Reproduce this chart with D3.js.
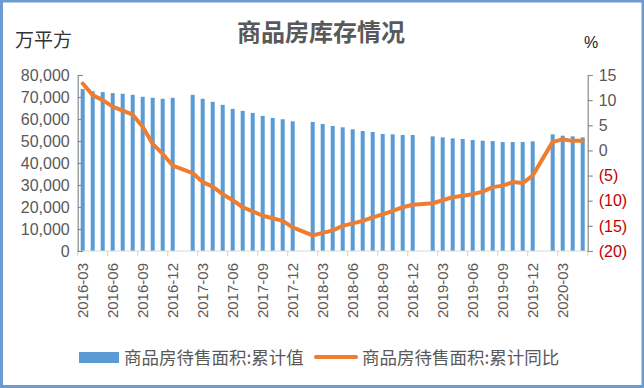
<!DOCTYPE html>
<html>
<head>
<meta charset="utf-8">
<script src="https://cdn.jsdelivr.net/npm/d3@7"></script>
<style>
  body { margin: 0; background: #fff; }
  svg { display: block; }
</style>
</head>
<body>
<div id="chart"></div>
<script>
const months = [
    "2016-03", "2016-04", "2016-05", "2016-06", "2016-07", "2016-08", "2016-09", "2016-10", "2016-11", "2016-12",
    "2017-01", "2017-02", "2017-03", "2017-04", "2017-05", "2017-06", "2017-07", "2017-08", "2017-09", "2017-10", "2017-11", "2017-12",
    "2018-01", "2018-02", "2018-03", "2018-04", "2018-05", "2018-06", "2018-07", "2018-08", "2018-09", "2018-10", "2018-11", "2018-12",
    "2019-01", "2019-02", "2019-03", "2019-04", "2019-05", "2019-06", "2019-07", "2019-08", "2019-09", "2019-10", "2019-11", "2019-12",
    "2020-01", "2020-02", "2020-03", "2020-04", "2020-05"
];

// 商品房待售面积:累计值 (万平方)
const area = [
    73600, 72600, 72230, 71770, 71470, 71000, 70100, 69640, 69180, 69640,
    null, 71000, 69180, 67800, 66440, 64600, 63700, 62780, 61410, 60500, 59890, 58970,
    null, 58670, 57750, 56840, 56230, 55310, 54550, 54100, 53180, 53030, 52730, 52730,
    null, 52110, 51650, 51200, 50900, 50440, 50130, 49980, 49520, 49520, 49520, 49830,
    null, 53030, 52420, 52110, 51650
];

// 商品房待售面积:累计同比 (%)
const yoy = [
    13.3, 11.0, 10.0, 8.7, 7.9, 7.1, 4.7, 1.3, -0.7, -3.0,
    null, -4.5, -6.3, -7.2, -8.7, -9.9, -11.3, -12.1, -13.0, -13.5, -14.0, -15.3,
    null, -16.9, -16.4, -15.9, -15.0, -14.5, -14.0, -13.3, -12.7, -12.0, -11.3, -10.8,
    null, -10.5, -9.9, -9.3, -9.0, -8.7, -8.2, -7.3, -7.0, -6.3, -6.5, -5.0,
    null, 1.7, 2.2, 1.9, 1.9
];

const leftTicks = [0, 10000, 20000, 30000, 40000, 50000, 60000, 70000, 80000];
const rightTicks = [-20, -15, -10, -5, 0, 5, 10, 15];

const title = "商品房库存情况";
const leftUnit = "万平方";
const rightUnit = "%";
const legendNames = ["商品房待售面积:累计值", "商品房待售面积:累计同比"];

const width = 644, height = 388;
const plot = { left: 77.7, right: 587.7, top: 75, bottom: 251 };
const barColor = "#5B9BD5", lineColor = "#ED7D31";
const textColor = "#595959";
const cjk = "'Noto Sans CJK SC', sans-serif";
const latin = "'Liberation Sans', Arial, sans-serif";

const svg = d3.select("#chart").append("svg")
    .attr("width", width)
    .attr("height", height);

svg.append("rect")
    .attr("width", width).attr("height", height)
    .attr("fill", "#fff");

// outer frame
svg.append("rect")
    .attr("x", 1.5).attr("y", 1)
    .attr("width", width - 2.5).attr("height", height - 2.5)
    .attr("fill", "none")
    .attr("stroke", "#6C9BD2")
    .attr("stroke-width", 3);

const x = d3.scaleBand()
    .domain(months)
    .range([plot.left, plot.right])
    .paddingInner(0.6)
    .paddingOuter(0.3);

const yL = d3.scaleLinear().domain([0, 80000]).range([plot.bottom, plot.top]);
const yR = d3.scaleLinear().domain([-20, 15]).range([plot.bottom, plot.top]);

const half = x.step() * x.paddingInner() / 2;

// bars
svg.append("g")
    .selectAll("rect")
    .data(months.map((m, i) => ({ m, v: area[i] })).filter(d => d.v != null))
    .enter().append("rect")
    .attr("x", d => x(d.m))
    .attr("width", x.bandwidth())
    .attr("y", d => yL(d.v))
    .attr("height", d => yL(0) - yL(d.v))
    .attr("fill", barColor);

// bottom axis line + ticks at category boundaries
const bottom = svg.append("g");
bottom.append("line")
    .attr("x1", plot.left).attr("x2", plot.right)
    .attr("y1", yL(0)).attr("y2", yL(0))
    .attr("stroke", "#D9D9D9").attr("stroke-width", 1.2);

const tickMonths = months.filter((m, i) => i % 3 === 0);
const tickPos = tickMonths.map(m => x(m) - half).concat([plot.right]);
bottom.selectAll("line.tick")
    .data(tickPos)
    .enter().append("line")
    .attr("class", "tick")
    .attr("x1", d => d).attr("x2", d => d)
    .attr("y1", yL(0)).attr("y2", yL(0) + 5)
    .attr("stroke", "#D9D9D9").attr("stroke-width", 1.2);

bottom.selectAll("text")
    .data(tickMonths)
    .enter().append("text")
    .attr("transform", d => `translate(${x(d) + x.bandwidth() / 2 + 5},${yL(0) + 12}) rotate(-90)`)
    .attr("text-anchor", "end")
    .attr("font-family", latin)
    .attr("font-size", 15)
    .attr("fill", textColor)
    .text(d => d);

// left axis
const leftAxis = svg.append("g")
    .attr("transform", `translate(${plot.left},0)`)
    .call(d3.axisRight(yL).tickValues(leftTicks).tickSize(5).tickFormat(""));
leftAxis.select(".domain").attr("stroke", "#8C8C8C").attr("stroke-width", 1.2);
leftAxis.selectAll(".tick line").attr("stroke", "#8C8C8C").attr("stroke-width", 1.2);

svg.append("g")
    .selectAll("text")
    .data(leftTicks)
    .enter().append("text")
    .attr("x", plot.left - 8)
    .attr("y", d => yL(d))
    .attr("dy", "0.36em")
    .attr("text-anchor", "end")
    .attr("font-family", latin)
    .attr("font-size", 16)
    .attr("fill", textColor)
    .text(d => d3.format(",")(d));

// right axis
const rightAxis = svg.append("g")
    .attr("transform", `translate(${plot.right},0)`)
    .call(d3.axisRight(yR).tickValues(rightTicks).tickSize(5).tickFormat(""));
rightAxis.select(".domain").attr("stroke", "#8C8C8C").attr("stroke-width", 1.2);
rightAxis.selectAll(".tick line").attr("stroke", "#8C8C8C").attr("stroke-width", 1.2);

svg.append("g")
    .selectAll("text")
    .data(rightTicks)
    .enter().append("text")
    .attr("x", plot.right + 11)
    .attr("y", d => yR(d))
    .attr("dy", "0.36em")
    .attr("font-family", latin)
    .attr("font-size", 16)
    .attr("fill", d => d < 0 ? "#C00000" : textColor)
    .text(d => d < 0 ? `(${-d})` : d);

// line
const linePts = months.map((m, i) => ({ m, v: yoy[i] })).filter(d => d.v != null);
const line = d3.line()
    .x(d => x(d.m) + x.bandwidth() / 2)
    .y(d => yR(d.v));
svg.append("path")
    .datum(linePts)
    .attr("fill", "none")
    .attr("stroke", lineColor)
    .attr("stroke-width", 4)
    .attr("stroke-linejoin", "round")
    .attr("stroke-linecap", "round")
    .attr("d", line);

// titles
svg.append("text")
    .attr("x", 321).attr("y", 41)
    .attr("text-anchor", "middle")
    .attr("font-family", cjk)
    .attr("font-weight", "bold")
    .attr("font-size", 24)
    .attr("fill", textColor)
    .text(title);

svg.append("text")
    .attr("x", 15).attr("y", 47)
    .attr("font-family", cjk)
    .attr("font-size", 19)
    .attr("fill", "#333")
    .text(leftUnit);

svg.append("text")
    .attr("x", 584).attr("y", 48)
    .attr("font-family", latin)
    .attr("font-size", 16)
    .attr("fill", "#222")
    .text(rightUnit);

// legend
const lg = svg.append("g");
lg.append("rect")
    .attr("x", 79).attr("y", 352)
    .attr("width", 40).attr("height", 11)
    .attr("fill", barColor);
lg.append("text")
    .attr("x", 124).attr("y", 364)
    .attr("font-family", cjk)
    .attr("font-size", 17.5)
    .attr("fill", textColor)
    .text(legendNames[0]);
lg.append("line")
    .attr("x1", 316).attr("x2", 356)
    .attr("y1", 357).attr("y2", 357)
    .attr("stroke", lineColor)
    .attr("stroke-width", 4)
    .attr("stroke-linecap", "round");
lg.append("text")
    .attr("x", 362).attr("y", 364)
    .attr("font-family", cjk)
    .attr("font-size", 17.5)
    .attr("fill", textColor)
    .text(legendNames[1]);
</script>
</body>
</html>
